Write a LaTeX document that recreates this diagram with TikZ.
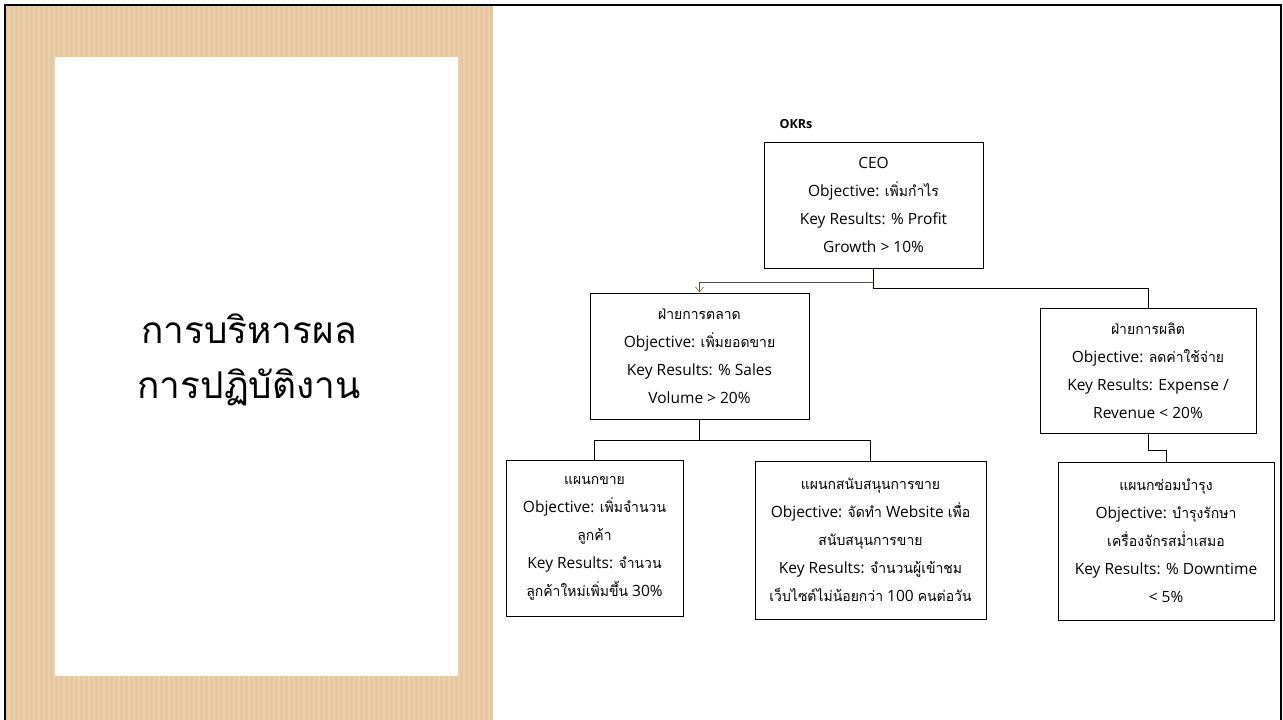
\documentclass[tikz,border=0pt]{standalone}
\usepackage{fontspec}
\setmainfont{Open Sans}
\newfontfamily\thaifont[Script=Thai,Scale=0.93,FakeStretch=0.97]{Loma}
\newfontfamily\titlefont[Script=Thai]{Loma}
\newcommand\T[1]{{\thaifont #1}}
\usetikzlibrary{arrows.meta,positioning}

\definecolor{kraft}{RGB}{230,199,159}
\definecolor{kraftlight}{RGB}{236,208,172}
\definecolor{linkgray}{RGB}{88,80,70}
\definecolor{tipbrown}{RGB}{160,128,82}

\tikzset{
  okrbox/.style={draw=black, line width=0.8pt, fill=white, align=center,
    font=\fontsize{15.5}{28}\selectfont, inner sep=1pt},
  link/.style={draw=black, line width=0.8pt},
}

\begin{document}
\begin{tikzpicture}[x=1pt,y=-1pt]
\useasboundingbox (0,0) rectangle (1283,720);
% kraft panel on the left
\fill[kraft] (6,6) rectangle (493,720);
\foreach \x in {8,13,...,490} {
  \fill[kraftlight] (\x,6) rectangle ++(2,714);
}
\fill[white] (55,57) rectangle (458,676);
\node[font=\titlefont\fontsize{37}{55}\selectfont, align=center] (title) at (249,360) {การบริหารผล\\การปฏิบัติงาน};
% slide frame
\draw[line width=2.5pt] (5,720) -- (5,5) -- (1281,5) -- (1281,720);

% chart
\node[font=\bfseries\fontsize{12.5}{14}\selectfont] (okrs) at (796,124) {OKRs};
\node[okrbox, minimum width=219pt, minimum height=126pt] (ceo) at (873.5,205) {CEO\\Objective: \T{เพิ่มกำไร}\\Key Results: \% Profit\\Growth > 10\%};
\node[okrbox, minimum width=219pt, minimum height=126pt] (mkt) at (699.5,356) {\T{ฝ่ายการตลาด}\\Objective: \T{เพิ่มยอดขาย}\\Key Results: \% Sales\\Volume > 20\%};
\node[okrbox, minimum width=216pt, minimum height=125pt] (prod) at (1148,370.5) {\T{ฝ่ายการผลิต}\\Objective: \T{ลดค่าใช้จ่าย}\\Key Results: Expense /\\Revenue < 20\%};
\node[okrbox, minimum width=177pt, minimum height=156pt] (sales) at (594.5,538.5) {\T{แผนกขาย}\\Objective: \T{เพิ่มจำนวน}\\\T{ลูกค้า}\\Key Results: \T{จำนวน}\\\T{ลูกค้าใหม่เพิ่มขึ้น} 30\%};
\node[okrbox, minimum width=231pt, minimum height=158pt] (supp) at (870.5,540) {\T{แผนกสนับสนุนการขาย}\\Objective: \T{จัดทำ} Website \T{เพื่อ}\\\T{สนับสนุนการขาย}\\Key Results: \T{จำนวนผู้เข้าชม}\\\T{เว็บไซต์ไม่น้อยกว่า} 100 \T{คนต่อวัน}};
\node[okrbox, minimum width=216pt, minimum height=158pt] (maint) at (1166,541) {\T{แผนกซ่อมบำรุง}\\Objective: \T{บำรุงรักษา}\\\T{เครื่องจักรสม่ำเสมอ}\\Key Results: \% Downtime\\< 5\%};

% links
\draw[linkgray, line width=0.8pt, -{Straight Barb[length=5pt,width=8pt,color=tipbrown]}] (ceo.south) -- ++(0,14) -| (mkt.north);
\draw[link] (ceo.south) -- ++(0,20) -| (prod.north);
\draw[link] (mkt.south) -- ++(0,21) -| (sales.north);
\draw[link] (mkt.south) -- ++(0,21) -| (supp.north);
\draw[link] (prod.south) -- ++(0,17) -| (maint.north);
\end{tikzpicture}
\end{document}
